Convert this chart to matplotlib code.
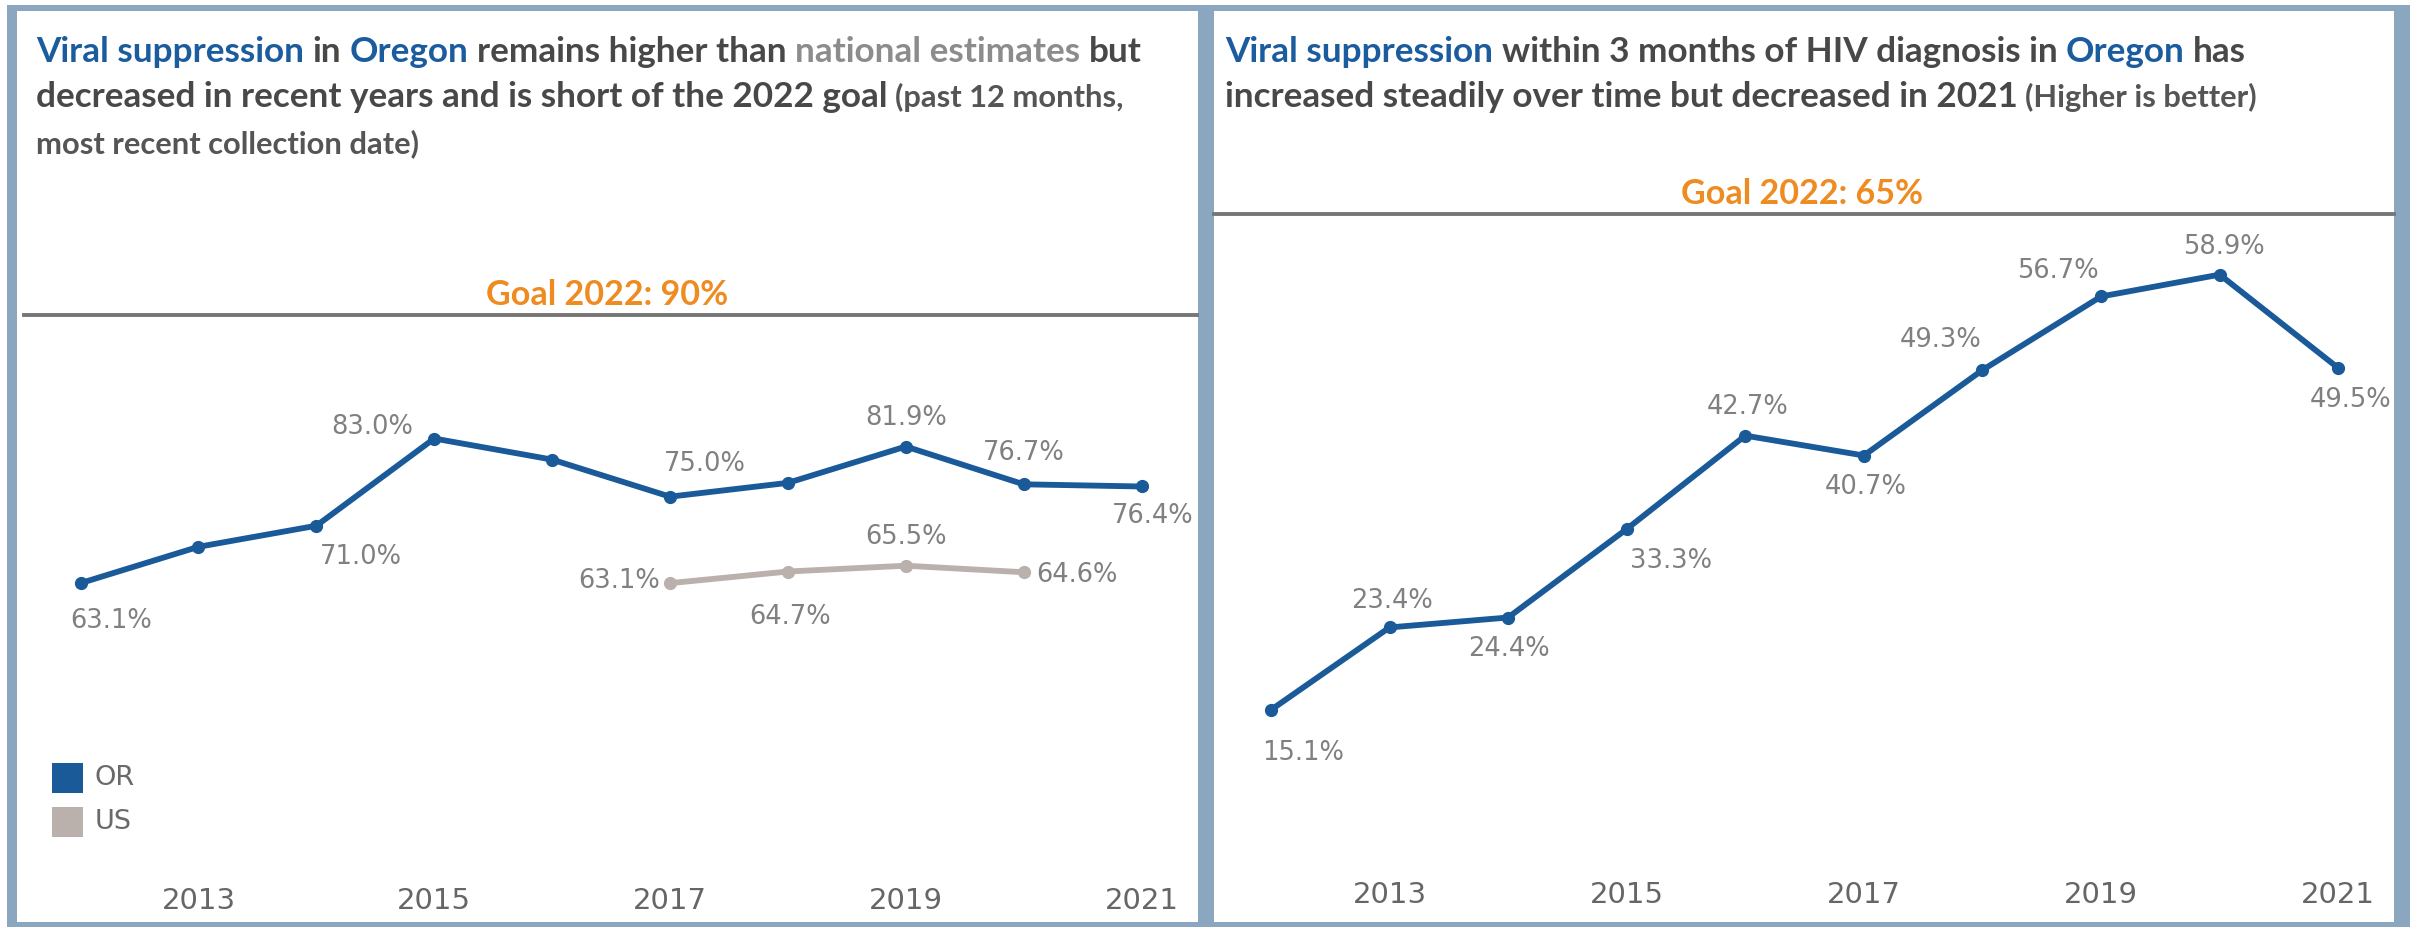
import matplotlib
matplotlib.use('Agg')
import matplotlib.pyplot as plt
from matplotlib.patches import Rectangle

# ---------------- data ----------------
years = [2012, 2013, 2014, 2015, 2016, 2017, 2018, 2019, 2020, 2021]
or_suppression = [63.1, 68.1, 71.0, 83.0, 80.1, 75.0, 76.9, 81.9, 76.7, 76.4]
or_labeled = [True, False, True, True, False, True, False, True, True, True]
us_years = [2017, 2018, 2019, 2020]
us_suppression = [63.1, 64.7, 65.5, 64.6]
rapid_suppression = [15.1, 23.4, 24.4, 33.3, 42.7, 40.7, 49.3, 56.7, 58.9, 49.5]
tick_years = [2013, 2015, 2017, 2019, 2021]
series_names = ['OR', 'US']
goal_vs = 90
goal_rapid = 65

# label placements (pixel offsets from point: right, up)
or_offsets = [(31, -40), None, (45, -33), (-62, 10), None, (35, 31), None, (0, 27), (0, 29), (11, -32)]
us_offsets = [(-51, 0), (2, -47), (0, 27), (53, -5)]
rapid_offsets = [(32, -45), (2, 24), (1, -33), (44, -34), (2, 27), (2, -33), (-42, 28), (-43, 23), (4, 26), (12, -34)]

# ---------------- style ----------------
W, H, DPI = 2410, 927, 100
OR_COLOR = '#1A5A99'
US_COLOR = '#BAB0AC'
BORDER = '#8AA7BF'
BLUE = '#1B5C9E'
DARK = '#484848'
DARK2 = '#555555'
GRAYT = '#8C8C8C'
ORANGE = '#EE8B21'
LABEL_C = '#808080'
TICK_C = '#666666'
TFONT = 'Lato'
TWEIGHT = 'bold'
NFONT = 'DejaVu Sans'

fig = plt.figure(figsize=(W / DPI, H / DPI), dpi=DPI, facecolor='white')
renderer = fig.canvas.get_renderer()


def frac_rect(x0, y0, x1, y1, color):
    fig.add_artist(Rectangle((x0 / W, 1 - y1 / H), (x1 - x0) / W, (y1 - y0) / H,
                             transform=fig.transFigure, facecolor=color,
                             edgecolor='none', zorder=-10))


# frame and panels
frac_rect(7, 5, W, H, BORDER)
frac_rect(17, 11, 1198, 922, 'white')
frac_rect(1214, 11, 2394, 922, 'white')


def text_px(x, y, s, **kw):
    return fig.text(x / W, 1 - y / H, s, **kw)


def space_w(size):
    a = text_px(0, 0, 'x x', fontsize=size, family=TFONT, fontweight=TWEIGHT)
    b = text_px(0, 0, 'xx', fontsize=size, family=TFONT, fontweight=TWEIGHT)
    w = a.get_window_extent(renderer).width - b.get_window_extent(renderer).width
    a.remove()
    b.remove()
    return w


def rich_line(x, y, pieces, scale):
    texts = []
    for i, (s, c, rel) in enumerate(pieces):
        size = scale * rel
        if i > 0:
            x += space_w(size)
        t = text_px(x, y, s, color=c, fontsize=size, family=TFONT,
                    fontweight=TWEIGHT, va='baseline', ha='left')
        x = t.get_window_extent(renderer).x1
        texts.append(t)
    return texts, x


L1 = [("Viral suppression", BLUE, 1), ("in", DARK, 1), ("Oregon", BLUE, 1),
      ("remains higher than", DARK, 1), ("national estimates", GRAYT, 1), ("but", DARK, 1)]
L2 = [("decreased in recent years and is short of the 2022 goal", DARK, 1),
      ("(past 12 months,", DARK2, 0.88)]
L3 = [("most recent collection date)", DARK2, 0.88)]
R1 = [("Viral suppression", BLUE, 1), ("within 3 months of HIV diagnosis in", DARK, 1),
      ("Oregon", BLUE, 1), ("has", DARK, 1)]
R2 = [("increased steadily over time but decreased in 2021", DARK, 1),
      ("(Higher is better)", DARK2, 0.88)]

# fit title size to the reference line width
base = 22.0
tmp, xend = rich_line(36, 62, L1, base)
for t in tmp:
    t.remove()
scale = base * (1142 - 36) / (xend - 36)

rich_line(36, 62, L1, scale)
rich_line(36, 107, L2, scale)
rich_line(36, 153, L3, scale)
rich_line(1225, 62, R1, scale)
rich_line(1225, 107, R2, scale)

# ---------------- axes ----------------
ax1 = fig.add_axes([24 / W, (H - 860) / H, (1197 - 24) / W, (860 - 315) / H])
ax2 = fig.add_axes([1214 / W, (H - 860) / H, (2394 - 1214) / W, (860 - 214) / H])
ax1.set_xlim(2011.52, 2021.47)
ax1.set_ylim(25, 100)
ax2.set_xlim(2011.52, 2021.47)
ax2.set_ylim(0, goal_rapid)

for ax, pad in ((ax1, 19.5), (ax2, 15.0)):
    ax.set_facecolor('none')
    for side in ('left', 'right', 'bottom'):
        ax.spines[side].set_visible(False)
    ax.spines['top'].set_color('#767676')
    ax.spines['top'].set_linewidth(2.8)
    ax.set_yticks([])
    ax.set_xticks(tick_years)
    ax.set_xticklabels([str(y) for y in tick_years])
    ax.tick_params(axis='x', length=0, pad=pad, labelsize=21, labelcolor=TICK_C)
    for lab in ax.get_xticklabels():
        lab.set_family(NFONT)

line_kw = dict(lw=4.2, marker='o', ms=8.5, solid_joinstyle='round',
               solid_capstyle='round', clip_on=False)
ax1.plot(years, or_suppression, color=OR_COLOR, zorder=3, **line_kw)
ax1.plot(us_years, us_suppression, color=US_COLOR, zorder=2, **line_kw)
ax2.plot(years, rapid_suppression, color=OR_COLOR, zorder=3, **line_kw)


def put_labels(ax, xs, vals, offsets):
    for x, v, off in zip(xs, vals, offsets):
        if off is None:
            continue
        ax.annotate(f"{v:.1f}%", xy=(x, v), xytext=(off[0], off[1] + 2),
                    textcoords='offset pixels', ha='center', va='center',
                    fontsize=18.5, color=LABEL_C, family=NFONT, annotation_clip=False)


put_labels(ax1, years, or_suppression,
           [o if lab else None for o, lab in zip(or_offsets, or_labeled)])
put_labels(ax1, us_years, us_suppression, us_offsets)
put_labels(ax2, years, rapid_suppression, rapid_offsets)

# goal headers
for ax, goal, dx in ((ax1, goal_vs, -3), (ax2, goal_rapid, -2)):
    ax.annotate(f"Goal 2022: {goal}%", xy=(0.5, 1), xycoords='axes fraction',
                xytext=(dx, 10), textcoords='offset pixels', ha='center', va='baseline',
                fontsize=scale * 0.97, color=ORANGE, family=TFONT, fontweight=TWEIGHT)

# legend
for i, (name, col) in enumerate(zip(series_names, [OR_COLOR, US_COLOR])):
    y0 = 763 + i * 44
    frac_rect(52, y0, 83, y0 + 30, col)
    fig.artists[-1].set_zorder(5)
    text_px(95, y0 + 15, name, fontsize=19.5, color='#6A6A6A', family=NFONT,
            va='center', ha='left')

fig.savefig('out.png', dpi=DPI, facecolor='white')
